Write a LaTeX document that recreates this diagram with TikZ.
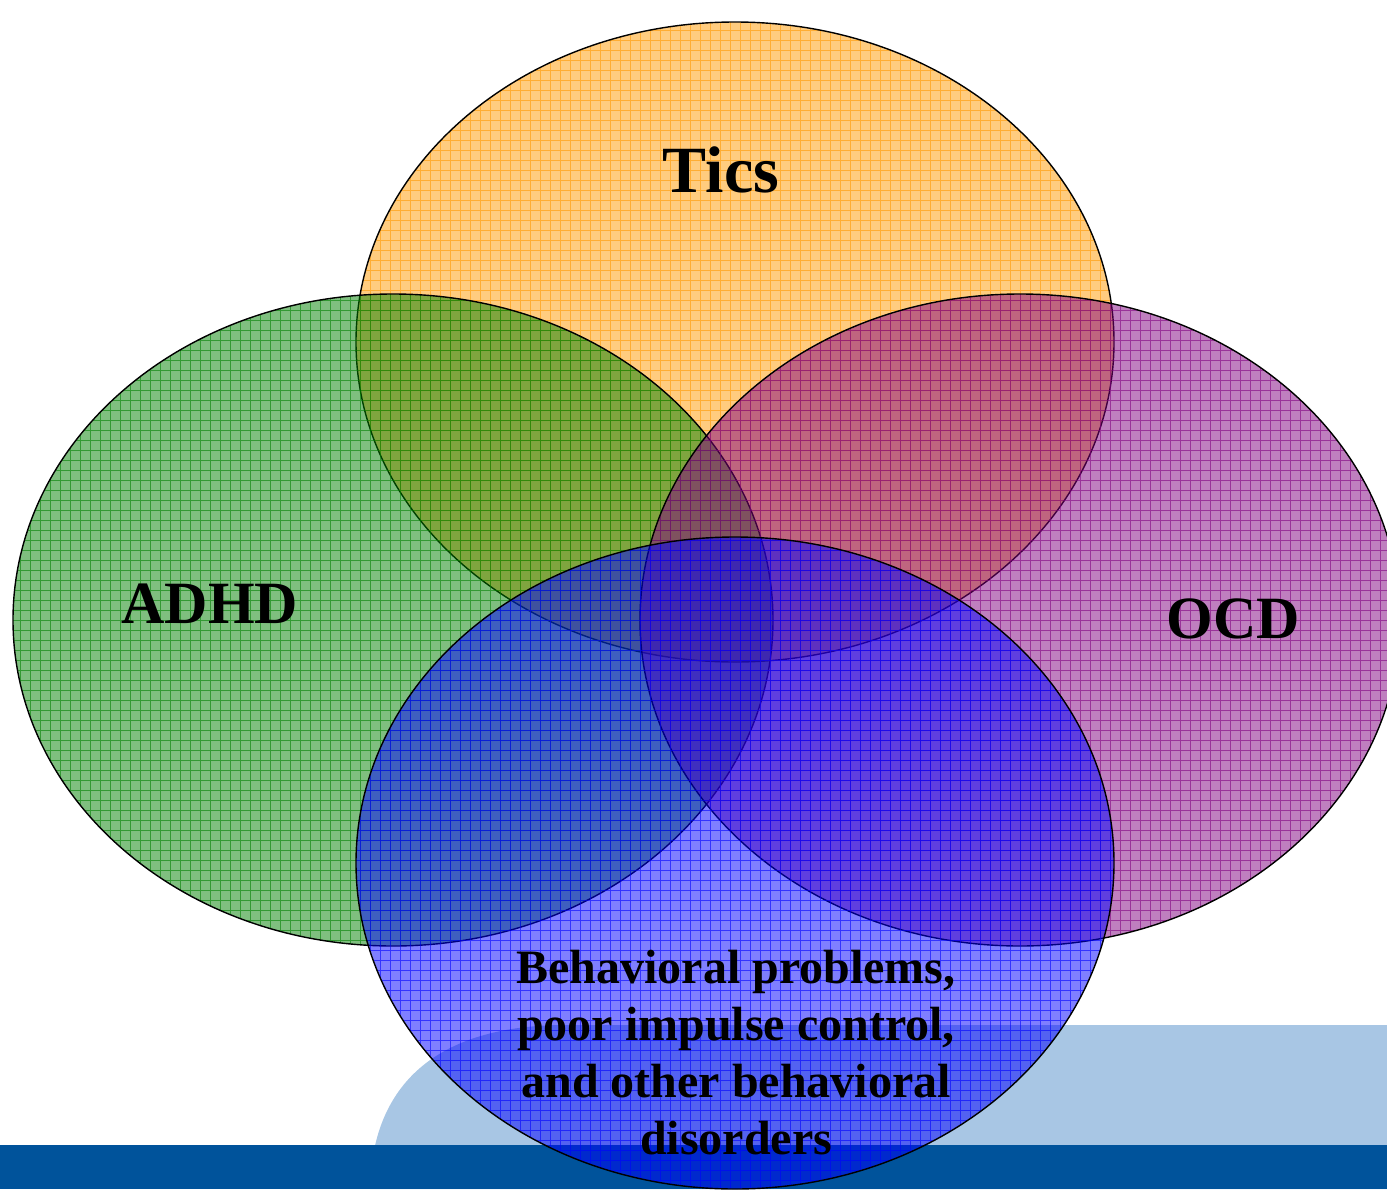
\documentclass[tikz,border=0pt]{standalone}
\usepackage{fontspec}
\setmainfont{Liberation Serif}
\definecolor{ticsorange}{RGB}{255,153,0}
\definecolor{adhdgreen}{RGB}{0,128,0}
\definecolor{ocdpurple}{RGB}{128,0,128}
\definecolor{behavblue}{RGB}{0,0,255}
\definecolor{lightband}{RGB}{168,198,228}
\definecolor{darkband}{RGB}{0,83,155}

\begin{document}
\begin{tikzpicture}[x=0.5pt,y=-0.5pt,
    setline/.style={draw=black,line width=0.7pt},
    setgrid/.style={line width=0.4pt,opacity=0.6,xstep=5pt,ystep=5pt},
    setname/.style={font=\bfseries,align=center,inner sep=0pt}]
    \useasboundingbox (0,0) rectangle (1387,1189);
    \clip (0,0) rectangle (1387,1189);
    % background bands
    \fill[lightband] (370,1189) .. controls (372,1090) and (430,1027) .. (560,1025)
        -- (1387,1025) -- (1387,1189) -- cycle;
    \fill[darkband] (0,1145) rectangle (1387,1189);
    % the four sets
    \foreach \cx/\cy/\rx/\ry/\col in {735/342/379/320/ticsorange,
        393/620/380/326/adhdgreen, 1020/620/380/326/ocdpurple,
        735/863/379/326/behavblue} {
        \begin{scope}
            \clip (\cx,\cy) ellipse [x radius=\rx, y radius=\ry];
            \fill[\col,opacity=0.5] (\cx,\cy) ellipse [x radius=\rx, y radius=\ry];
            \draw[\col,setgrid] (0,1189) grid (1387,0);
        \end{scope}
        \draw[setline] (\cx,\cy) ellipse [x radius=\rx, y radius=\ry];
    }
    % labels
    \node[setname,font=\fontsize{33}{38}\selectfont\bfseries] (tics) at (721,170) {Tics};
    \node[setname,font=\fontsize{30}{36}\selectfont\bfseries] (adhd) at (210,604) {ADHD};
    \node[setname,font=\fontsize{30}{36}\selectfont\bfseries] (ocd) at (1233,619) {OCD};
    \node[setname,font=\fontsize{24}{28.5}\selectfont\bfseries] (behav) at (736,1053)
        {Behavioral problems,\\ poor impulse control,\\ and other behavioral\\ disorders};
\end{tikzpicture}
\end{document}
